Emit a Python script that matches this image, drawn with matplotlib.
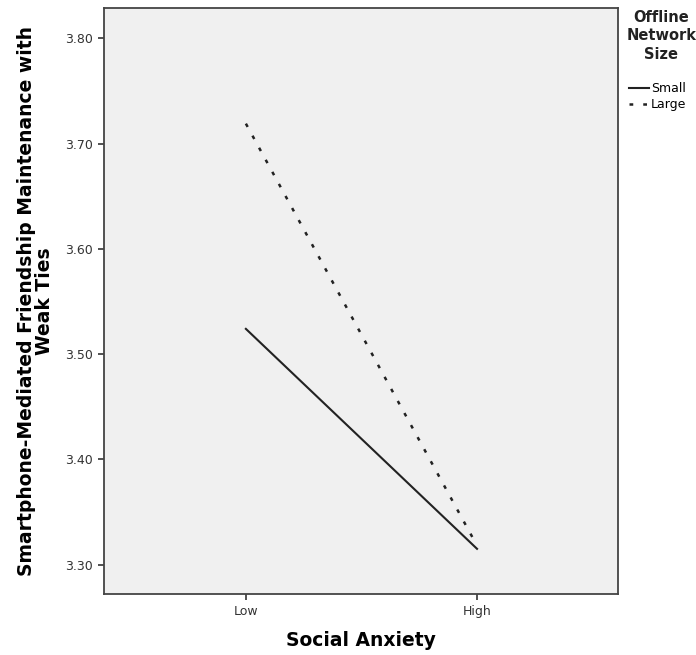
import matplotlib
matplotlib.use("Agg")
from matplotlib import pyplot as plt

# Data
categories = ["Low", "High"]
small_values = [3.524, 3.315]
large_values = [3.719, 3.318]
series_names = ["Small", "Large"]
y_ticks = [3.30, 3.40, 3.50, 3.60, 3.70, 3.80]
legend_title = "Offline\nNetwork\nSize"

fig = plt.figure(figsize=(6.96, 6.55), dpi=100)
ax = fig.add_axes([0.149, 0.093, 0.739, 0.895])
ax.set_facecolor("#f0f0f0")

x = list(range(len(categories)))
ax.plot(x, small_values, color="#222222", lw=1.5, linestyle="-", label=series_names[0])
ax.plot(x, large_values, color="#222222", lw=1.8, linestyle=(0, (1.5, 4.0)), label=series_names[1])

ax.set_xlim(-0.615, 1.61)
ax.set_ylim(3.272, 3.829)
ax.set_xticks(x)
ax.set_xticklabels(categories)
ax.set_yticks(y_ticks)
ax.set_yticklabels([f"{v:.2f}" for v in y_ticks])
ax.tick_params(axis="both", labelsize=9, colors="#333333", length=4, width=1.2, labelcolor="#333333")

for side in ax.spines.values():
    side.set_color("#444444")
    side.set_linewidth(1.3)

ax.set_xlabel("Social Anxiety", fontsize=13.5, fontweight="bold", labelpad=10)
ax.set_ylabel("Smartphone-Mediated Friendship Maintenance with\nWeak Ties",
              fontsize=13.5, fontweight="bold", labelpad=8, linespacing=0.95)

# legend title as plain text, entries below it
fig.text(0.95, 0.985, legend_title, ha="center", va="top", fontsize=10.5,
         fontweight="semibold", color="#222222", linespacing=1.3)
leg = fig.legend(loc="upper center", bbox_to_anchor=(0.945, 0.888),
                 frameon=False, fontsize=9, handlelength=1.6,
                 handletextpad=0.1, labelspacing=0.25, borderpad=0.2)

fig.savefig("out.png", dpi=100)
